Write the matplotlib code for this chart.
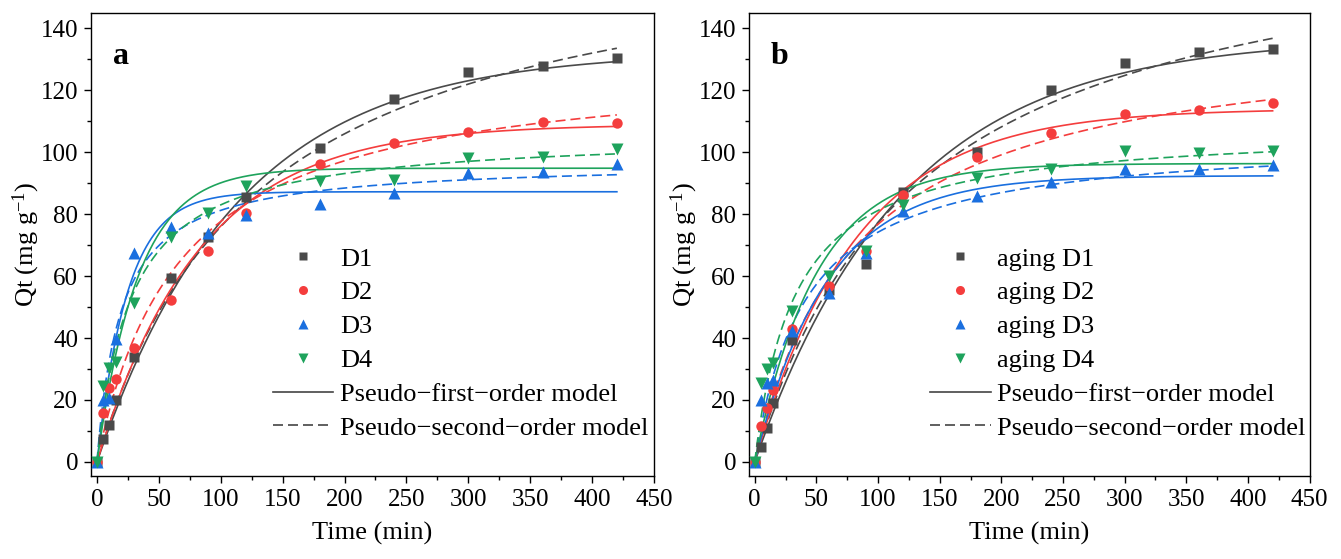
import numpy as np
import matplotlib
matplotlib.use("Agg")
import matplotlib.pyplot as plt
from matplotlib.ticker import MultipleLocator
from matplotlib.lines import Line2D

plt.rcParams["font.family"] = ["Liberation Serif", "DejaVu Serif"]
plt.rcParams["mathtext.fontset"] = "custom"
plt.rcParams["mathtext.rm"] = "Liberation Serif"
plt.rcParams["mathtext.it"] = "Liberation Serif:italic"

# sampling times (min)
time = [0, 5, 10, 15, 30, 60, 90, 120, 180, 240, 300, 360, 420]

# adsorption capacity Qt (mg/g), fresh samples
qt_d1 = [0, 7.5, 12, 20, 34, 59.3, 72.5, 85.6, 101.2, 117.3, 125.7, 127.8, 130.5]
qt_d2 = [0, 15.8, 24, 26.8, 36.8, 52.3, 68, 80.2, 96.1, 103.1, 106.5, 109.6, 109.5]
qt_d3 = [0, 20, 20.5, 39.8, 67.5, 75.8, 73.8, 79.7, 83.2, 86.7, 93.1, 93.6, 96.3]
qt_d4 = [0, 24.6, 30.3, 32.4, 51.2, 72.6, 80.5, 89, 90.6, 91, 98.2, 98.3, 101]

# adsorption capacity Qt (mg/g), aged samples
qt_ad1 = [0, 4.8, 11, 19, 39.5, 55.5, 63.9, 87, 100.1, 120.2, 128.9, 132.4, 133.2]
qt_ad2 = [0, 11.7, 17.5, 23.3, 42.8, 56.9, 68, 86, 98.5, 106.3, 112.2, 113.5, 115.7]
qt_ad3 = [0, 20, 25.5, 26.5, 42.3, 54.4, 67.5, 81.1, 85.8, 90.4, 94.4, 94.4, 95.8]
qt_ad4 = [0, 25.6, 29.9, 32, 48.6, 60, 68, 83, 91.7, 94.4, 100.3, 99.6, 100.3]

labels_a = ["D1", "D2", "D3", "D4"]
labels_b = ["aging D1", "aging D2", "aging D3", "aging D4"]

# pseudo-first-order fits: qe (mg/g), k1 (1/min)
pfo_a_qe = [132.5, 109.0, 87.2, 94.8]
pfo_a_k1 = [0.0088, 0.0120, 0.040, 0.030]
pfo_b_qe = [137.0, 114.0, 92.4, 96.3]
pfo_b_k1 = [0.0083, 0.0122, 0.0170, 0.0200]

# pseudo-second-order fits: qe (mg/g), k2 (g/(mg min))
pso_a_qe = [175.0, 130.0, 97.0, 106.0]
pso_a_k2 = [4.38e-5, 1.14e-4, 5.3e-4, 3.4e-4]
pso_b_qe = [180.0, 140.0, 105.0, 108.0]
pso_b_k2 = [4.18e-5, 8.66e-5, 2.29e-4, 2.8e-4]

colors = ["#4a4a4a", "#f43d3d", "#1a6fdf", "#1ea35c"]
markers = ["s", "o", "^", "v"]
msizes = [6.5, 7.5, 8.0, 8.0]
legend_msizes = [6.0, 6.5, 7.0, 7.0]


def pfo(t, qe, k1):
    return qe * (1.0 - np.exp(-k1 * t))


def pso(t, qe, k2):
    return qe * qe * k2 * t / (1.0 + qe * k2 * t)


fig = plt.figure(figsize=(13.41, 5.59), dpi=100)
ax_a = fig.add_axes([0.0677, 0.1476, 0.4200, 0.8297])
ax_b = fig.add_axes([0.5582, 0.1476, 0.4184, 0.8297])

t_fit = np.linspace(0, 420, 400)

panels = [
    (ax_a, [qt_d1, qt_d2, qt_d3, qt_d4], labels_a, pfo_a_qe, pfo_a_k1, pso_a_qe, pso_a_k2, "a"),
    (ax_b, [qt_ad1, qt_ad2, qt_ad3, qt_ad4], labels_b, pfo_b_qe, pfo_b_k1, pso_b_qe, pso_b_k2, "b"),
]

for ax, series, labels, q1, k1, q2, k2, letter in panels:
    for i in range(4):
        ax.plot(t_fit, pfo(t_fit, q1[i], k1[i]), color=colors[i], lw=1.2, zorder=2)
        ax.plot(t_fit, pso(t_fit, q2[i], k2[i]), color=colors[i], lw=1.2,
                ls=(0, (6, 3)), zorder=2)
    for i in range(4):
        ax.plot(time, series[i], ls="none", marker=markers[i], ms=msizes[i],
                color=colors[i], mec="none", zorder=3)

    ax.set_xlim(-5, 450)
    ax.set_ylim(-4.7, 145)
    ax.xaxis.set_major_locator(MultipleLocator(50))
    ax.xaxis.set_minor_locator(MultipleLocator(25))
    ax.yaxis.set_major_locator(MultipleLocator(20))
    ax.yaxis.set_minor_locator(MultipleLocator(10))
    ax.tick_params(which="both", direction="out", top=False, right=False,
                   labelsize=18, width=1.0, pad=4)
    ax.tick_params(which="major", length=5)
    ax.tick_params(which="minor", length=3)
    for s in ax.spines.values():
        s.set_linewidth(1.0)

    ax.set_xlabel("Time (min)", fontsize=19, labelpad=8)
    ax.set_ylabel("Qt (mg g$^{-1}$)", fontsize=19, labelpad=-1)
    ax.text(0.04, 0.905, letter, transform=ax.transAxes, fontsize=23,
            fontweight="bold", va="center", ha="left")

    handles = [Line2D([], [], ls="none", marker=markers[i], ms=legend_msizes[i],
                      color=colors[i], mec="none") for i in range(4)]
    handles.append(Line2D([], [], color="#444444", lw=1.2))
    handles.append(Line2D([], [], color="#444444", lw=1.2, ls=(0, (6, 3))))
    ax.legend(handles, labels + ["Pseudo\u2212first\u2212order model",
                                 "Pseudo\u2212second\u2212order model"],
              loc="upper left", bbox_to_anchor=(142, 69.3), bbox_transform=ax.transData,
              frameon=False, fontsize=19, handlelength=2.3, handletextpad=0.25,
              labelspacing=0.39, borderpad=0, borderaxespad=0)

fig.savefig("out.png", dpi=100)
